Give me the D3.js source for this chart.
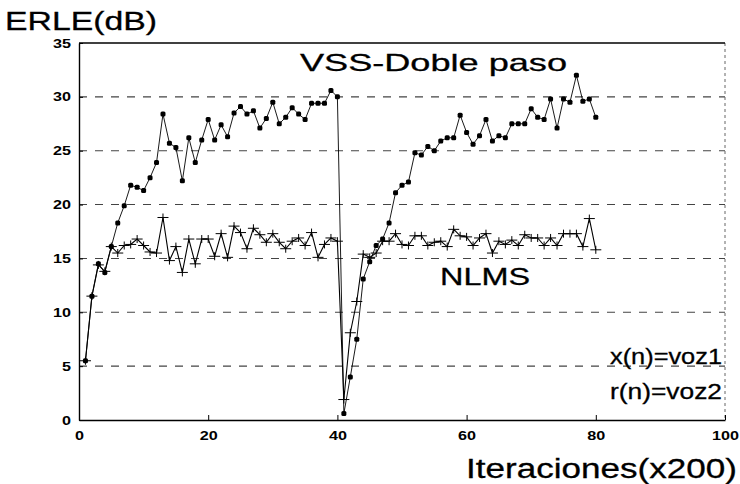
<!DOCTYPE html>
<html>
<head>
<meta charset="utf-8">
<script src="https://cdn.jsdelivr.net/npm/d3@7"></script>
<style>
  body { margin: 0; background: #fff; }
  text { font-family: "Liberation Sans", Arial, sans-serif; fill: #000; }
</style>
</head>
<body>
<svg id="chart" width="740" height="484"></svg>
<script>
// iteraciones (x200)
const iteraciones = [1,2,3,4,5,6,7,8,9,10,11,12,13,14,15,16,17,18,19,20,
  21,22,23,24,25,26,27,28,29,30,31,32,33,34,35,36,37,38,39,40,
  41,42,43,44,45,46,47,48,49,50,51,52,53,54,55,56,57,58,59,60,
  61,62,63,64,65,66,67,68,69,70,71,72,73,74,75,76,77,78,79,80]

// ERLE (dB) VSS-Doble paso
const vss = [5.5,11.5,14.5,13.7,16.1,18.3,19.9,21.8,21.6,21.3,22.5,23.9,28.4,25.7,25.3,22.2,26.2,23.9,26.0,27.9,
  26.0,27.4,26.3,28.5,29.1,28.4,28.7,27.1,28.0,29.5,27.5,28.1,29.0,28.4,27.9,29.4,29.4,29.4,30.6,30.0,
  0.6,4.0,7.5,13.1,14.7,16.2,16.8,18.3,21.1,21.8,22.1,24.8,24.6,25.4,25.0,25.9,26.2,26.2,28.3,26.7,
  25.6,26.4,27.9,25.9,26.4,26.2,27.5,27.5,27.5,28.9,28.1,27.9,29.8,27.1,29.8,29.5,32.0,29.6,29.8,28.1]

// ERLE (dB) NLMS
const nlms = [5.5,11.5,14.4,13.8,16.1,15.5,16.2,16.3,16.8,16.2,15.6,15.5,18.8,14.8,16.1,13.7,16.8,14.5,16.8,16.8,
  15.2,17.3,15.1,18.0,17.4,15.9,17.8,17.2,16.5,17.3,16.5,15.9,16.6,16.9,16.2,17.4,15.1,16.3,16.9,16.6,
  1.9,8.1,11.0,15.4,15.1,15.5,16.6,16.6,17.3,16.3,16.2,17.1,17.1,16.2,16.5,16.6,16.1,17.7,17.1,17.0,
  16.2,16.9,17.3,15.5,16.6,16.3,16.7,16.2,17.2,16.9,16.9,16.2,16.9,16.2,17.3,17.3,17.3,16.1,18.7,15.8]

const xTicks = [0, 20, 40, 60, 80, 100]
const yTicks = [0, 5, 10, 15, 20, 25, 30, 35]
const gridValues = [5, 10, 15, 20, 25, 30]

const margin = { top: 43, right: 15, bottom: 64, left: 79 }
const WIDTH = 740
const HEIGHT = 484
const width = WIDTH - margin.left - margin.right
const height = HEIGHT - margin.top - margin.bottom

const svg = d3.select("#chart")

const xScale = d3.scaleLinear().domain([0, 100]).range([0, width])
const yScale = d3.scaleLinear().domain([0, 35]).range([height, 0])

const plot = svg.append("g").attr("transform", `translate(${margin.left}, ${margin.top})`)

// lineas de la cuadricula
plot.append("g")
  .selectAll("line")
  .data(gridValues)
  .join("line")
  .attr("x1", 0)
  .attr("x2", width)
  .attr("y1", d => yScale(d))
  .attr("y2", d => yScale(d))
  .attr("stroke", "#444")
  .attr("stroke-width", 1.1)
  .attr("stroke-dasharray", "8,8")

// marco
plot.append("line").attr("x1", width).attr("x2", width).attr("y1", 0).attr("y2", height)
  .attr("stroke", "#666").attr("stroke-width", 1).attr("stroke-dasharray", "3,3")
plot.append("line").attr("x1", 0).attr("x2", width).attr("y1", 0).attr("y2", 0)
  .attr("stroke", "#000").attr("stroke-width", 1.3)

// ejes
const xAxis = d3.axisBottom(xScale).tickValues(xTicks).tickSizeInner(-5).tickSizeOuter(0).tickPadding(12)
const yAxis = d3.axisLeft(yScale).tickValues(yTicks).tickSizeInner(-4).tickSizeOuter(0).tickPadding(8)

const xAxisG = plot.append("g").attr("transform", `translate(0, ${height})`).call(xAxis)
const yAxisG = plot.append("g").call(yAxis)

;[xAxisG, yAxisG].forEach(g => {
  g.select(".domain").attr("stroke", "#000").attr("stroke-width", 1.4)
  g.selectAll(".tick line").attr("stroke", "#000")
  g.selectAll(".tick text")
    .attr("font-family", "Liberation Sans, Arial, sans-serif")
    .attr("font-size", 12.5)
    .attr("font-weight", "bold")
    .attr("fill", "#000")
    .attr("lengthAdjust", "spacingAndGlyphs")
    .attr("textLength", d => String(d).length * 9)
})
xAxisG.selectAll(".tick text").attr("dy", "0.6em")

// lineas
const points = (serie) => iteraciones.map((it, i) => ({ x: it, y: serie[i] }))
const lineGenerator = d3.line().x(d => xScale(d.x)).y(d => yScale(d.y))

plot.append("path")
  .datum(points(nlms))
  .attr("d", lineGenerator)
  .attr("fill", "none")
  .attr("stroke", "#000")
  .attr("stroke-width", 1.1)

plot.append("path")
  .datum(points(vss))
  .attr("d", lineGenerator)
  .attr("fill", "none")
  .attr("stroke", "#000")
  .attr("stroke-width", 0.9)

// marcadores NLMS (+)
plot.append("g")
  .selectAll("path")
  .data(points(nlms))
  .join("path")
  .attr("d", d => `M${xScale(d.x) - 5.5},${yScale(d.y)}h11M${xScale(d.x)},${yScale(d.y) - 4}v8`)
  .attr("stroke", "#000")
  .attr("stroke-width", 1)

// marcadores VSS (puntos)
plot.append("g")
  .selectAll("rect")
  .data(points(vss))
  .join("rect")
  .attr("x", d => xScale(d.x) - 2.5)
  .attr("y", d => yScale(d.y) - 2.5)
  .attr("width", 5)
  .attr("height", 5)
  .attr("rx", 1.5)
  .attr("fill", "#000")

// textos
const label = (txt, x, y, size, len) => svg.append("text")
  .attr("x", x)
  .attr("y", y)
  .attr("font-size", size)
  .attr("textLength", len)
  .attr("lengthAdjust", "spacingAndGlyphs")
  .attr("stroke", "#000")
  .attr("stroke-width", 0.3)
  .text(txt)

label("ERLE(dB)", 5, 30, 25, 152)
label("VSS-Doble paso", 300, 71, 24, 267)
label("NLMS", 440, 285, 24, 90)
label("x(n)=voz1", 610, 364, 22, 112)
label("r(n)=voz2", 610, 399, 22, 112)
label("Iteraciones(x200)", 466, 478, 27, 271)
</script>
</body>
</html>
